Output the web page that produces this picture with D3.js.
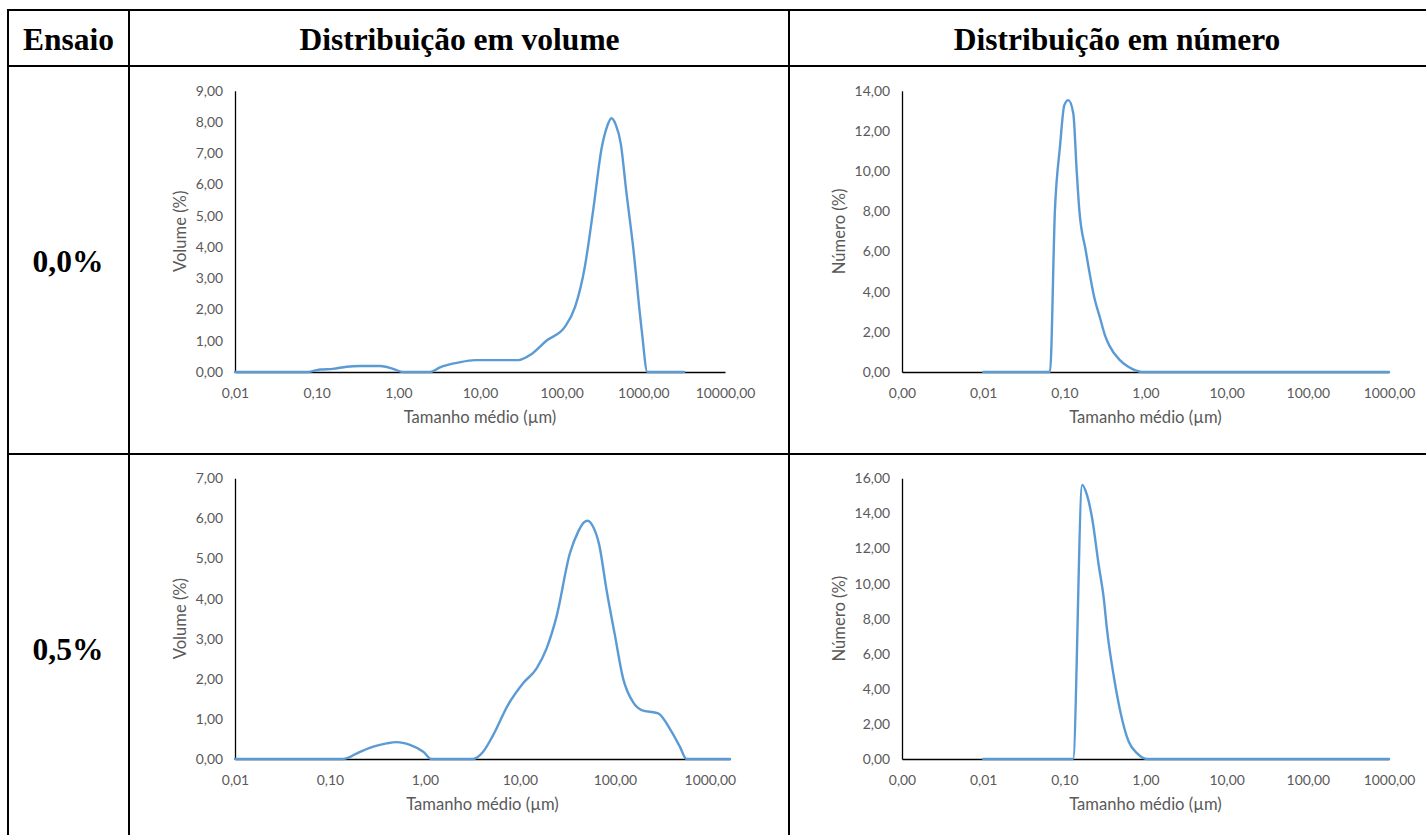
<!DOCTYPE html>
<html>
<head>
<meta charset="utf-8">
<script src="https://cdn.jsdelivr.net/npm/d3@7"></script>
<style>
  body { margin: 0; background: #fff; }
  .tick text { font-family: Lato, sans-serif; font-size: 13.9px; fill: #595959; }
  .axis-title { font-family: Lato, sans-serif; font-size: 16.6px; fill: #595959; }
  .cell-text { font-family: 'Liberation Serif', 'Times New Roman', serif; font-weight: bold; font-size: 31.5px; fill: #000; }
</style>
</head>
<body>
<div id="figure"></div>
<script>
// headers of the table
const columnHeaders = ['Ensaio', 'Distribuição em volume', 'Distribuição em número'];
const rowLabels = ['0,0%', '0,5%'];

// volume distribution, 0,0%  (size in µm, volume in %)
const volSize00 = [0.01, 0.078, 0.11, 0.158, 0.233, 0.34, 0.6, 0.86, 1.15, 2.44, 3.24, 5.4, 8.7, 29.5, 42.5, 65, 110, 146, 192, 243, 310, 357, 407, 457, 530, 617, 750, 955, 1120, 3160];
const volPct00 = [0, 0, 0.08, 0.1, 0.17, 0.19, 0.19, 0.1, 0, 0, 0.15, 0.3, 0.38, 0.38, 0.57, 1.0, 1.45, 2.08, 3.36, 5.17, 7.19, 7.83, 8.12, 7.93, 7.3, 5.8, 4.0, 1.34, 0, 0];

// number distribution, 0,0%
const numSize00 = [0.01, 0.0666, 0.0766, 0.0883, 0.1, 0.112, 0.129, 0.142, 0.153, 0.183, 0.238, 0.275, 0.316, 0.36, 0.48, 0.6, 0.75, 0.9, 1000];
const numPct00 = [0, 0, 8.06, 11.2, 13.28, 13.53, 12.87, 10.0, 8.06, 6.07, 3.58, 2.7, 1.84, 1.3, 0.6, 0.28, 0.08, 0, 0];

// volume distribution, 0,5%
const volSize05 = [0.01, 0.138, 0.207, 0.286, 0.395, 0.504, 0.695, 0.96, 1.17, 3.2, 4.1, 5.24, 7.5, 10.8, 15, 19.1, 24.3, 33.6, 41.1, 47.2, 51.6, 59, 68.4, 81.8, 100, 122, 156, 191, 286, 395, 483, 569, 1630];
const volPct05 = [0, 0, 0.18, 0.31, 0.39, 0.42, 0.35, 0.18, 0, 0, 0.18, 0.6, 1.35, 1.89, 2.26, 2.76, 3.55, 5.13, 5.67, 5.9, 5.94, 5.79, 5.34, 4.21, 3.09, 2.01, 1.41, 1.22, 1.14, 0.68, 0.31, 0, 0];

// number distribution, 0,5%
const numSize05 = [0.01, 0.128, 0.166, 0.19, 0.22, 0.265, 0.306, 0.337, 0.407, 0.49, 0.62, 0.79, 1.05, 1000];
const numPct05 = [0, 0, 15.62, 15.05, 13.72, 11.06, 9.16, 7.3, 4.7, 2.7, 1.0, 0.32, 0, 0];

// tick labels
const volTicks00 = [0.01, 0.1, 1, 10, 100, 1000, 10000];
const volTicks05 = [0.01, 0.1, 1, 10, 100, 1000];
const numTicks = [0.001, 0.01, 0.1, 1, 10, 100, 1000];

const ptBR = d3.formatLocale({ decimal: ',', thousands: '.', grouping: [3], currency: ['R$', ''] });
const fmt = ptBR.format('.2f');

class DistributionChart {
  constructor(opts) {
    this.left = opts.left;
    this.right = opts.right;
    this.top = opts.top;
    this.bottom = opts.bottom;
    this.xDomain = opts.xDomain;
    this.xTicks = opts.xTicks;
    this.yMax = opts.yMax;
    this.yStep = opts.yStep;
    this.yTitle = opts.yTitle;
    this.sizes = opts.sizes;
    this.values = opts.values;
  }

  draw(svg) {
    const g = svg.append('g');
    const x = d3.scaleLog().domain(this.xDomain).range([this.left, this.right]);
    const y = d3.scaleLinear().domain([0, this.yMax]).range([this.bottom, this.top]);

    const yAxis = g.append('g')
      .attr('transform', `translate(${this.left},0)`)
      .call(d3.axisLeft(y)
        .tickValues(d3.range(0, this.yMax + 0.001, this.yStep))
        .tickFormat(fmt)
        .tickSize(0)
        .tickPadding(12));

    g.append('g')
      .attr('transform', `translate(0,${this.bottom})`)
      .call(d3.axisBottom(x)
        .tickValues(this.xTicks)
        .tickFormat(fmt)
        .tickSize(0)
        .tickPadding(16));

    g.selectAll('.domain')
      .attr('stroke', '#000')
      .attr('stroke-width', 1.3);

    // axis titles, the y one sits left of the widest tick label
    // (bbox is in the axis group's own coordinates, so add the offset)
    const labelBox = yAxis.node().getBBox();
    g.append('text')
      .attr('class', 'axis-title')
      .attr('transform', `translate(${this.left + labelBox.x - 15},${(this.top + this.bottom) / 2}) rotate(-90)`)
      .attr('text-anchor', 'middle')
      .attr('dy', '0.35em')
      .text(this.yTitle);

    g.append('text')
      .attr('class', 'axis-title')
      .attr('x', (this.left + this.right) / 2)
      .attr('y', this.bottom + 51)
      .attr('text-anchor', 'middle')
      .text('Tamanho médio (µm)');

    const line = d3.line()
      .x((d, i) => x(this.sizes[i]))
      .y(d => y(d))
      .curve(d3.curveMonotoneX);

    g.append('path')
      .datum(this.values)
      .attr('d', line)
      .attr('fill', 'none')
      .attr('stroke', '#5B9BD5')
      .attr('stroke-width', 2.4)
      .attr('stroke-linejoin', 'round')
      .attr('stroke-linecap', 'round');

    return g;
  }
}

const svg = d3.select('#figure')
  .append('svg')
  .attr('width', 1426)
  .attr('height', 835);

// table grid
const hLines = [10, 66, 454];
const vLines = [8, 129, 789];
svg.selectAll('line.h')
  .data(hLines)
  .enter()
  .append('line')
  .attr('x1', 7).attr('x2', 1440)
  .attr('y1', d => d).attr('y2', d => d)
  .attr('stroke', '#000').attr('stroke-width', 2);
svg.selectAll('line.v')
  .data(vLines)
  .enter()
  .append('line')
  .attr('x1', d => d).attr('x2', d => d)
  .attr('y1', 9).attr('y2', 850)
  .attr('stroke', '#000').attr('stroke-width', 2);

const headerX = [68.5, 459.5, 1117];
svg.selectAll('text.header')
  .data(columnHeaders)
  .enter()
  .append('text')
  .attr('class', 'cell-text header')
  .attr('x', (d, i) => headerX[i])
  .attr('y', 49.5)
  .attr('text-anchor', 'middle')
  .text(d => d);

const rowY = [272, 660];
svg.selectAll('text.row')
  .data(rowLabels)
  .enter()
  .append('text')
  .attr('class', 'cell-text row')
  .attr('x', 68)
  .attr('y', (d, i) => rowY[i])
  .attr('text-anchor', 'middle')
  .text(d => d);

const charts = [
  new DistributionChart({ left: 235, right: 725, top: 90.7, bottom: 372, xDomain: [0.01, 10000], xTicks: volTicks00,
    yMax: 9, yStep: 1, yTitle: 'Volume (%)', sizes: volSize00, values: volPct00 }),
  new DistributionChart({ left: 902, right: 1389, top: 90.7, bottom: 372, xDomain: [0.001, 1000], xTicks: numTicks,
    yMax: 14, yStep: 2, yTitle: 'Número (%)', sizes: numSize00, values: numPct00 }),
  new DistributionChart({ left: 235, right: 730, top: 478.3, bottom: 759, xDomain: [0.01, 1630], xTicks: volTicks05,
    yMax: 7, yStep: 1, yTitle: 'Volume (%)', sizes: volSize05, values: volPct05 }),
  new DistributionChart({ left: 902, right: 1389, top: 478.3, bottom: 759, xDomain: [0.001, 1000], xTicks: numTicks,
    yMax: 16, yStep: 2, yTitle: 'Número (%)', sizes: numSize05, values: numPct05 })
];
charts.forEach(c => c.draw(svg));
</script>
</body>
</html>
